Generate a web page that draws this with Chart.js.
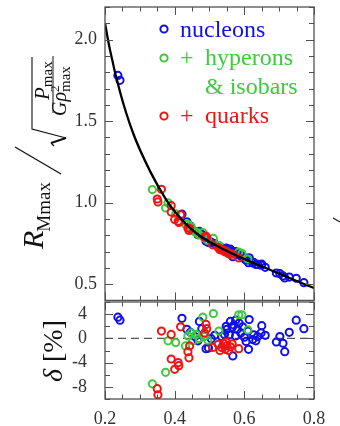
<!DOCTYPE html>
<html>
<head>
<meta charset="utf-8">
<script src="https://cdn.jsdelivr.net/npm/chart.js@4.4.1/dist/chart.umd.min.js"></script>
<style>
  body { margin: 0; background: #fff; }
  #wrap { position: relative; width: 340px; height: 426px; overflow: hidden; }
  canvas { position: absolute; left: 0; }
  #top { top: 0; }
  #bottom { top: 296px; }
</style>
</head>
<body>
<div id="wrap">
  <canvas id="top" width="340" height="306"></canvas>
  <canvas id="bottom" width="340" height="130"></canvas>
</div>
<script>
// fit curve
var curveX = [0.2, 0.214, 0.243, 0.28, 0.33, 0.375, 0.40, 0.46, 0.53, 0.62, 0.68, 0.74, 0.8];
var curveY = [2.10, 1.94, 1.68, 1.43, 1.19, 1.02, 0.945, 0.815, 0.725, 0.635, 0.582, 0.528, 0.476];

// nucleons
var blueX = [0.237, 0.243, 0.421, 0.435, 0.445, 0.458, 0.467, 0.471, 0.478, 0.49, 0.497, 0.505, 0.515, 0.535, 0.543, 0.548,
  0.55, 0.557, 0.56, 0.565, 0.567, 0.57, 0.575, 0.575, 0.58, 0.585, 0.59, 0.595, 0.6, 0.605, 0.612, 0.614, 0.61, 0.624,
  0.627, 0.633, 0.638, 0.648, 0.65, 0.66, 0.692, 0.702, 0.711, 0.716, 0.729, 0.749, 0.771];
var blueTop = [1.78, 1.75, 0.929, 0.882, 0.856, 0.822, 0.803, 0.823, 0.805, 0.763, 0.755, 0.757, 0.748, 0.722, 0.717, 0.721,
  0.716, 0.702, 0.714, 0.702, 0.668, 0.700, 0.700, 0.683, 0.685, 0.687, 0.671, 0.673, 0.656, 0.647, 0.631, 0.661, 0.653, 0.630,
  0.633, 0.621, 0.621, 0.616, 0.622, 0.603, 0.568, 0.564, 0.550, 0.538, 0.543, 0.536, 0.509];
var blueDelta = [3.5, 3.0, 3.3, 1.5, 1.0, 0.3, -0.4, 2.8, 1.6, -1.7, -1.6, -0.05, 0.5, 0.3, 0.65, 2.0,
  1.5, 0.6, 2.8, 1.8, -2.9, 2.2, 3.0, 0.4, 1.5, 2.5, 0.9, 1.9, 0.2, -0.5, -1.8, 3.1, 1.2, -0.2,
  0.6, -0.4, 0.3, 0.9, 2.1, 0.5, -0.6, 0.3, -0.8, -2.2, 1.0, 3.0, 1.6];

// + hyperons & isobars
var greenX = [0.336, 0.374, 0.381, 0.403, 0.431, 0.438, 0.448, 0.452, 0.462, 0.47, 0.481, 0.485, 0.495, 0.511, 0.527, 0.584, 0.593, 0.61];
var greenTop = [1.08, 0.967, 0.998, 0.931, 0.867, 0.866, 0.849, 0.829, 0.817, 0.802, 0.816, 0.785, 0.768, 0.780, 0.738, 0.697, 0.688, 0.654];
var greenDelta = [-7.5, -5.6, -0.4, -0.7, -1.25, 0.4, 0.9, -0.4, 0.65, 0.0, 3.5, 0.3, -0.3, 4.1, 1.2, 3.9, 3.9, 1.4];

// + quarks
var redX = [0.352, 0.35, 0.362, 0.39, 0.39, 0.40, 0.41, 0.412, 0.417, 0.438, 0.441, 0.443, 0.486, 0.49, 0.492, 0.509,
  0.525, 0.53, 0.535, 0.54, 0.545, 0.548, 0.55, 0.555, 0.56, 0.565, 0.584];
var redTop = [1.004, 1.022, 1.082, 0.981, 0.942, 0.897, 0.886, 0.878, 0.925, 0.844, 0.829, 0.841, 0.788, 0.794, 0.786, 0.741,
  0.724, 0.711, 0.709, 0.709, 0.697, 0.703, 0.697, 0.686, 0.685, 0.684, 0.660];
var redDelta = [-9.3, -8.3, 1.2, 0.65, -3.4, -5.1, -4.0, -4.5, 1.9, -2.2, -3.2, -1.25, 0.9, 2.3, 1.6, -1.5,
  -1.0, -2.0, -1.5, -0.8, -1.8, -0.6, -1.2, -2.0, -1.4, -0.9, -1.7];

var zeroX = [0.2, 0.8];
var zeroY = [0, 0];

var xTicks = [0.2, 0.4, 0.6, 0.8];
var topYTicks = [0.5, 1.0, 1.5, 2.0];
var bottomYTicks = [-8, -4, 0, 4];

var BLUE = '#1010e8';
var GREEN = '#3ec93e';
var RED = '#ee1515';
var FRAME = '#505050';
var TEXT = '#333';
var SERIF = '"Liberation Serif", "DejaVu Serif", serif';


function toPoints(xs, ys) {
  let pts = [];
  for (let i = 0; i < xs.length; i++) {
    pts.push({ x: xs[i], y: ys[i] });
  }
  return pts;
}

function circles(label, xs, ys, color) {
  return {
    label: label,
    data: toPoints(xs, ys),
    borderColor: color,
    backgroundColor: 'rgba(0,0,0,0)',
    pointRadius: 3.6,
    pointBorderWidth: 2,
    pointHoverRadius: 3.6
  };
}

// frame + inward ticks on all four sides
function frameTicks(chart, xStep, xMajor, yStep, yMajor) {
  let ctx = chart.ctx;
  let a = chart.chartArea;
  let xs = chart.scales.x, ys = chart.scales.y;
  ctx.save();
  ctx.strokeStyle = FRAME;
  ctx.lineWidth = 1.3;
  ctx.strokeRect(a.left, a.top, a.right - a.left, a.bottom - a.top);
  ctx.lineWidth = 1;
  ctx.beginPath();
  for (let v = xs.min; v <= xs.max + 1e-9; v += xStep) {
    let p = Math.round(xs.getPixelForValue(v)) + 0.5;
    let len = Math.abs(v / xMajor - Math.round(v / xMajor)) < 1e-6 ? 8 : 4.5;
    ctx.moveTo(p, a.bottom); ctx.lineTo(p, a.bottom - len);
    ctx.moveTo(p, a.top); ctx.lineTo(p, a.top + len);
  }
  for (let v = ys.min; v <= ys.max + 1e-9; v += yStep) {
    let p = Math.round(ys.getPixelForValue(v)) + 0.5;
    let len = Math.abs(v / yMajor - Math.round(v / yMajor)) < 1e-6 ? 8 : 5;
    ctx.moveTo(a.left, p); ctx.lineTo(a.left + len, p);
    ctx.moveTo(a.right, p); ctx.lineTo(a.right - len, p);
  }
  ctx.stroke();
  ctx.restore();
}

// text rotated 90deg, running bottom to top; returns where the next piece starts
function upText(ctx, text, font, y, baseX) {
  ctx.save();
  ctx.font = font;
  ctx.translate(baseX, y);
  ctx.rotate(-Math.PI / 2);
  ctx.textAlign = 'left';
  ctx.textBaseline = 'alphabetic';
  ctx.fillText(text, 0, 0);
  let w = ctx.measureText(text).width;
  ctx.restore();
  return y - w;
}

function line(ctx, pts, width) {
  ctx.lineWidth = width;
  ctx.beginPath();
  ctx.moveTo(pts[0][0], pts[0][1]);
  for (let i = 1; i < pts.length; i++) ctx.lineTo(pts[i][0], pts[i][1]);
  ctx.stroke();
}

var topDecor = {
  id: 'topDecor',
  afterDraw: function(chart) {
    frameTicks(chart, 0.05, 0.2, 0.1, 0.5);
    let ctx = chart.ctx;
    ctx.save();
    ctx.fillStyle = '#111';
    ctx.strokeStyle = '#111';

    // y title: R_Mmax / sqrt(P_max / G rho^2_max)
    let y = upText(ctx, 'R', 'italic 30px ' + SERIF, 249, 43);
    upText(ctx, 'Mmax', '19px ' + SERIF, y + 1, 50);
    line(ctx, [[61, 174], [15, 147]], 1.3);
    line(ctx, [[54, 146], [51, 143]], 1.2);
    line(ctx, [[51, 143], [66, 138]], 2);
    line(ctx, [[66, 138], [32, 129], [32, 57]], 1.1);
    y = upText(ctx, 'P', 'italic 21px ' + SERIF, 100, 49);
    upText(ctx, 'max', '15px ' + SERIF, y, 52);
    line(ctx, [[53, 113], [53, 56]], 1);
    y = upText(ctx, 'G\u03c1', 'italic 20px ' + SERIF, 116, 66);
    upText(ctx, '2', '13px ' + SERIF, y, 59);
    upText(ctx, 'max', '15px ' + SERIF, y, 70);

    // legend
    let marks = [[29, BLUE], [58, GREEN], [116, RED]];
    ctx.lineWidth = 2;
    for (let i = 0; i < marks.length; i++) {
      ctx.strokeStyle = marks[i][1];
      ctx.beginPath();
      ctx.arc(164, marks[i][0], 3.6, 0, Math.PI * 2);
      ctx.stroke();
    }
    ctx.font = '24px ' + SERIF;
    ctx.textBaseline = 'alphabetic';
    ctx.fillStyle = BLUE;
    ctx.fillText('nucleons', 180, 37);
    ctx.fillStyle = GREEN;
    ctx.fillText('+', 180, 65);
    ctx.fillText('hyperons', 205, 65);
    ctx.fillText('& isobars', 205, 94);
    ctx.fillStyle = RED;
    ctx.fillText('+', 180, 123);
    ctx.fillText('quarks', 205, 123);

    // edge of the neighbouring panel
    ctx.strokeStyle = '#222';
    line(ctx, [[333, 218], [340, 222]], 1.3);
    ctx.restore();
  }
};

var bottomDecor = {
  id: 'bottomDecor',
  afterDraw: function(chart) {
    frameTicks(chart, 0.05, 0.2, 2, 4);
    let ctx = chart.ctx;
    ctx.save();
    ctx.fillStyle = '#111';
    let y = upText(ctx, '\u03b4', 'italic 28px ' + SERIF, 86, 62);
    upText(ctx, ' [%]', '28px ' + SERIF, y, 62);
    ctx.restore();
  }
};

function noPad(scale) {
  scale.paddingTop = 0;
  scale.paddingBottom = 0;
  scale.paddingLeft = 0;
  scale.paddingRight = 0;
}

function yAxis(min, max, ticks, pad, fmt) {
  return {
    type: 'linear',
    min: min,
    max: max,
    grid: { display: false, drawTicks: false },
    border: { display: false },
    ticks: {
      autoSkip: false,
      padding: pad,
      color: TEXT,
      font: { family: SERIF, size: 18 },
      callback: fmt
    },
    afterBuildTicks: function(scale) {
      scale.ticks = ticks.map(function(v) { return { value: v }; });
    },
    afterFit: function(scale) {
      scale.width = 105;
      noPad(scale);
    }
  };
}

Chart.defaults.animation = false;

new Chart(document.getElementById('top'), {
  type: 'scatter',
  data: {
    datasets: [
      {
        label: 'fit',
        data: toPoints(curveX, curveY),
        showLine: true,
        borderColor: '#000',
        borderWidth: 2.3,
        pointRadius: 0,
        cubicInterpolationMode: 'monotone'
      },
      circles('+ quarks', redX, redTop, RED),
      circles('+ hyperons & isobars', greenX, greenTop, GREEN),
      circles('nucleons', blueX, blueTop, BLUE)
    ]
  },
  options: {
    responsive: false,
    devicePixelRatio: 1,
    layout: { padding: { left: 0, right: 26, top: 7, bottom: 4 } },
    scales: {
      x: { type: 'linear', min: 0.2, max: 0.8, display: false },
      y: yAxis(0.4, 2.2, topYTicks, 8, function(v) { return v.toFixed(1); })
    },
    plugins: { legend: { display: false }, tooltip: { enabled: false } }
  },
  plugins: [topDecor]
});

new Chart(document.getElementById('bottom'), {
  type: 'scatter',
  data: {
    datasets: [
      circles('+ quarks', redX, redDelta, RED),
      circles('+ hyperons & isobars', greenX, greenDelta, GREEN),
      circles('nucleons', blueX, blueDelta, BLUE),
      {
        label: 'zero',
        data: toPoints(zeroX, zeroY),
        showLine: true,
        borderColor: '#555',
        borderWidth: 1.2,
        borderDash: [8, 5],
        pointRadius: 0
      }
    ]
  },
  options: {
    responsive: false,
    devicePixelRatio: 1,
    layout: { padding: { left: 0, right: 26, top: 6, bottom: 0 } },
    scales: {
      x: {
        type: 'linear',
        min: 0.2,
        max: 0.8,
        grid: { display: false, drawTicks: false },
        border: { display: false },
        ticks: {
          autoSkip: false,
          maxRotation: 0,
          padding: 9,
          color: TEXT,
          font: { family: SERIF, size: 18 },
          callback: function(v) { return v.toFixed(1); }
        },
        afterBuildTicks: function(scale) {
          scale.ticks = xTicks.map(function(v) { return { value: v }; });
        },
        afterFit: function(scale) {
          scale.height = 27;
          noPad(scale);
        }
      },
      y: yAxis(-10, 6, bottomYTicks, 18, function(v) { return String(v); })
    },
    plugins: { legend: { display: false }, tooltip: { enabled: false } }
  },
  plugins: [bottomDecor]
});
</script>
</body>
</html>
